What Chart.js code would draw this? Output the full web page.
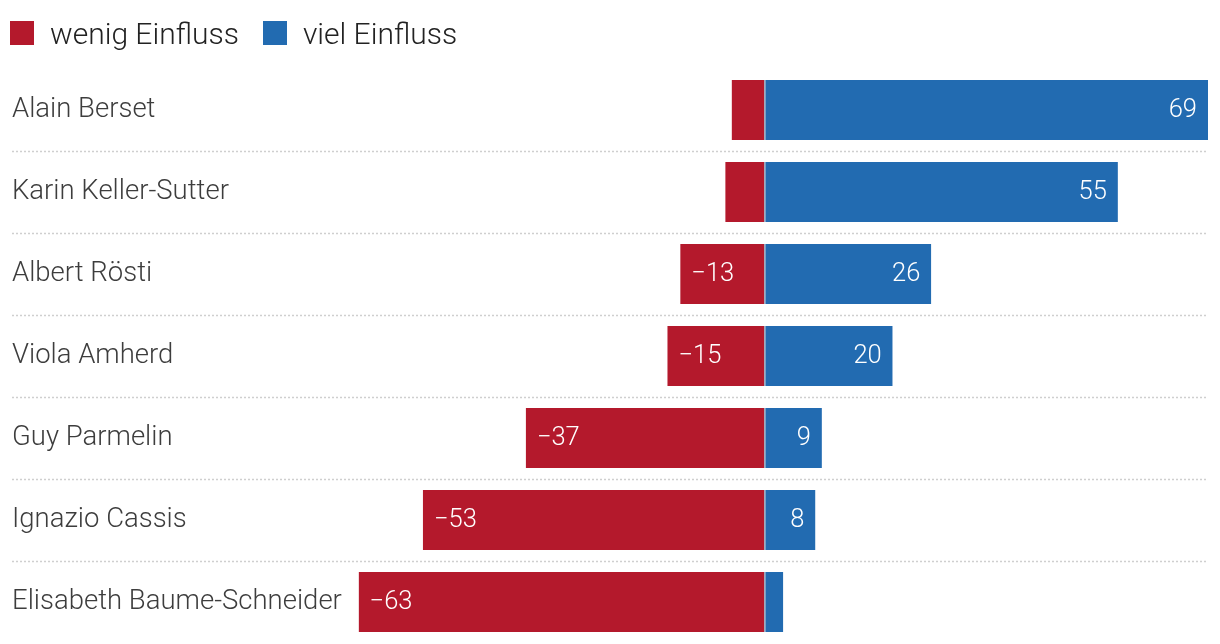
<!DOCTYPE html>
<html lang="de">
<head>
<meta charset="utf-8">
<title>Einfluss Bundesrat</title>
<script src="https://cdn.jsdelivr.net/npm/chart.js@4/dist/chart.umd.min.js"></script>
<style>
  html, body { margin:0; padding:0; background:#fff; }
  #wrap { position:relative; width:1220px; height:644px; }
  #legend { position:absolute; left:10px; top:21px; display:flex; align-items:center;
            font-family:Roboto, 'Open Sans', sans-serif; font-weight:300; font-size:30px; color:#222; }
  #legend .item { display:flex; align-items:center; margin-right:24px; height:24px; }
  #legend .box { width:24px; height:24px; margin-right:16px; }
</style>
</head>
<body>
<div id="wrap"><canvas id="chart"></canvas><div id="legend"></div></div>
<script>
// --- Daten ---
const names = ["Alain Berset","Karin Keller-Sutter","Albert Rösti","Viola Amherd","Guy Parmelin","Ignazio Cassis","Elisabeth Baume-Schneider"];
const wenig = [-5,-6,-13,-15,-37,-53,-63];
const viel  = [69,55,26,20,9,8,3];
const seriesLabels = ["wenig Einfluss","viel Einfluss"];

const RED = "#b4192c", BLUE = "#226bb1";
const FONT = "Roboto, 'Open Sans', sans-serif";

function fmtVal(v){
  return v < 0 ? "\u2212" + Math.abs(v) : String(v);
}

// gepunktete Trennlinien zwischen den Zeilen
const rowSeparators = {
  id: "rowSeparators",
  beforeDatasetsDraw(chart){
    const y = chart.scales.y, ctx = chart.ctx, area = chart.chartArea;
    ctx.save();
    ctx.strokeStyle = "#cfcfcf";
    ctx.lineWidth = 1.5;
    ctx.setLineDash([2,2]);
    for(let i=0;i<names.length-1;i++){
      const py = Math.round((y.getPixelForTick(i)+y.getPixelForTick(i+1))/2) + 0.5;
      ctx.beginPath();
      ctx.moveTo(y.left, py);
      ctx.lineTo(area.right, py);
      ctx.stroke();
    }
    ctx.restore();
  }
};

// Werte in den Balken (kleine Werte ohne Beschriftung)
const barValues = {
  id: "barValues",
  afterDatasetsDraw(chart){
    const ctx = chart.ctx;
    ctx.save();
    ctx.font = "300 25.5px " + FONT;
    ctx.fillStyle = "#fff";
    ctx.textBaseline = "middle";
    chart.data.datasets.forEach((ds, di)=>{
      const meta = chart.getDatasetMeta(di);
      meta.data.forEach((bar, i)=>{
        const v = ds.data[i];
        if(Math.abs(v) < 8) return;
        if(v < 0){
          ctx.textAlign = "left";
          ctx.fillText(fmtVal(v), bar.x + 11, bar.y + 1);
        }else{
          ctx.textAlign = "right";
          ctx.fillText(fmtVal(v), bar.x - 11, bar.y + 1);
        }
      });
    });
    ctx.restore();
  }
};

const chart = new Chart(document.getElementById("chart"), {
  type: "bar",
  data: {
    labels: names,
    datasets: [
      { label: seriesLabels[0], data: wenig, backgroundColor: RED,
        categoryPercentage: 1, barPercentage: 0.732, borderWidth: 0 },
      { label: seriesLabels[1], data: viel, backgroundColor: BLUE,
        categoryPercentage: 1, barPercentage: 0.732,
        borderColor: "#a3a9ba", borderSkipped: false,
        borderWidth: { left: 1.5, top: 0, right: 0, bottom: 0 } },
    ],
  },
  options: {
    indexAxis: "y",
    responsive: true,
    maintainAspectRatio: false,
    animation: false,
    layout: { padding: { left: 12, right: 12, top: 69, bottom: 1 } },
    plugins: {
      tooltip: { enabled: false },
      legend: { display: false },
    },
    scales: {
      x: {
        display: false,
        stacked: true,
        min: -63, max: 69,
      },
      y: {
        stacked: true,
        grid: { display: false },
        border: { display: false },
        afterFit(s){
          s.width = 346.6;
          s.paddingTop = 0;
          s.paddingBottom = 0;
        },
        ticks: {
          crossAlign: "far",
          color: "#3d3d3d",
          padding: 0,
          font: { family: FONT, size: 27.5, weight: "300" },
        },
      },
    },
  },
  plugins: [rowSeparators, barValues],
});

// Legende
const legendEl = document.getElementById("legend");
chart.data.datasets.forEach(ds=>{
  const item = document.createElement("div");
  item.className = "item";
  item.innerHTML = `<span class="box" style="background:${ds.backgroundColor}"></span><span>${ds.label}</span>`;
  legendEl.appendChild(item);
});
</script>
</body>
</html>
